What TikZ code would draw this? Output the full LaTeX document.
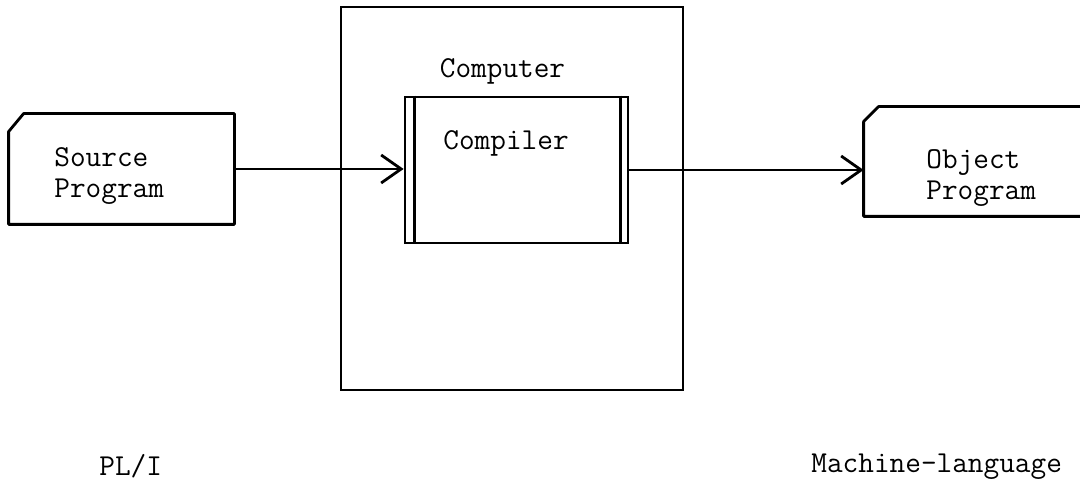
\documentclass[tikz,border=0pt]{standalone}
\usetikzlibrary{arrows.meta,calc}
\begin{document}
\begin{tikzpicture}[x=0.5pt,y=-0.5pt,
  line width=1.4pt,
  txt/.style={font=\fontsize{15.2pt}{15.5pt}\selectfont\ttfamily, inner sep=0pt, align=left},
  arr/.style={-{Straight Barb[length=10pt,width=14pt,line width=1.4pt]}},
]
\clip (0,0) rectangle (1080,491);
\fill[white] (0,0) rectangle (1080,491);

% Computer box
\node[draw, inner sep=0pt, minimum width=171pt, minimum height=191.5pt] (computer) at (512,198.5) {};
\node[txt, anchor=base] (computerlbl) at (502.5,78) {Computer};

% Compiler box
\node[draw, fill=white, inner sep=0pt, minimum width=111.5pt, minimum height=73pt] (comp) at (516.5,170) {};
\draw ([xshift=5.5pt]comp.north west) -- ([xshift=5.5pt]comp.south west);
\draw ([xshift=-4.5pt]comp.north east) -- ([xshift=-4.5pt]comp.south east);
\node[txt, anchor=base west] (complbl) at (442,150) {Compiler};

% Source card
\node[inner sep=0pt, minimum width=111.5pt, minimum height=54pt] (src) at (121.5,169) {};
\draw[fill=white, line join=round] (src.south west) -- ($(src.north west)+(0,18)$) -- ($(src.north west)+(15,0)$) -- (src.north east) -- (src.south east) -- cycle;
\node[txt, anchor=base west] (srclbl) at (53,198) {Source\\Program};

% Object card (runs off the right edge)
\node[inner sep=0pt, minimum width=117.5pt, minimum height=53.5pt] (obj) at (982.5,161.5) {};
\draw[fill=white, line join=round] (obj.south west) -- ($(obj.north west)+(0,15)$) -- ($(obj.north west)+(15,0)$) -- (obj.north east) -- (obj.south east) -- cycle;
\node[txt, anchor=base west] (objlbl) at (925,200) {Object\\Program};

% Connectors
\draw[arr] (src.east) -- (src.east -| comp.west);
\draw[arr] (comp.east) -- (comp.east -| obj.west);

% Bottom labels
\node[txt, anchor=base west] (pli) at (98,475) {PL/I};
\node[txt, anchor=base west] (ml) at (810,472) {Machine-language};
\end{tikzpicture}
\end{document}
